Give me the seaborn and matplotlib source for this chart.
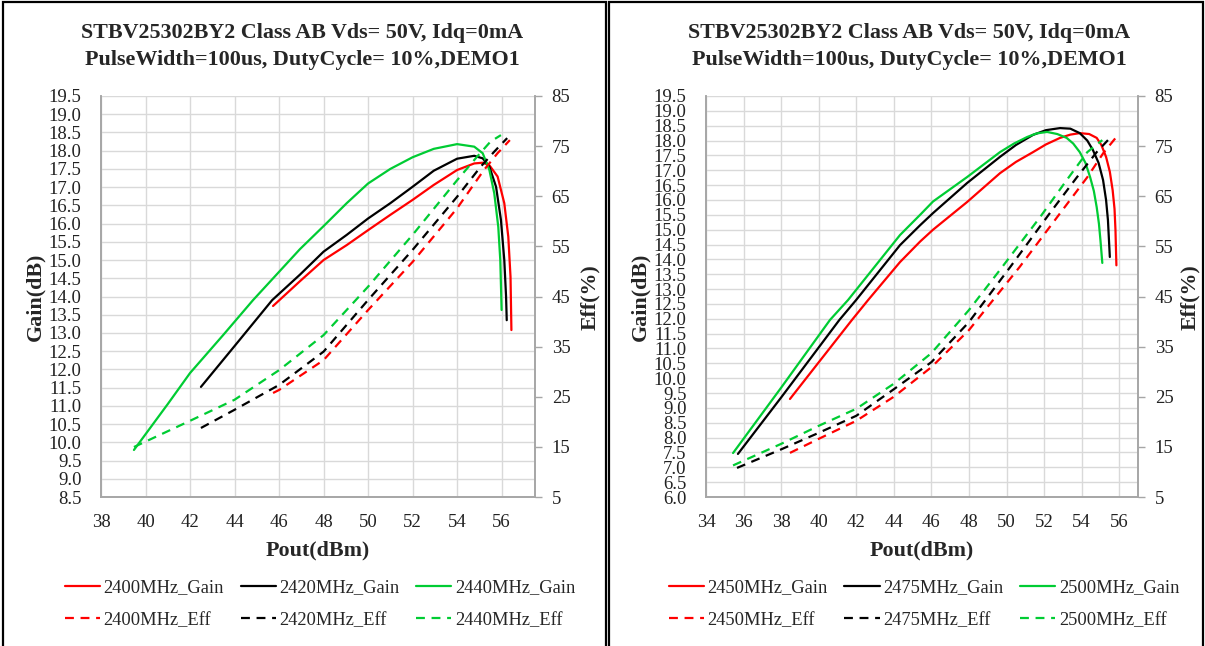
import numpy as np
import pandas as pd
import matplotlib.pyplot as plt
import seaborn as sns
from matplotlib.patches import Rectangle
from matplotlib.lines import Line2D

sns.set_style("white")
plt.rcParams['font.family'] = ['Liberation Serif', 'DejaVu Serif']

# --- DATA: left panel (DEMO1, 2400/2420/2440 MHz) ---
pout_2400_gain = [45.73, 46.94, 48.0, 49.04, 50.0, 51.0, 52.0, 52.95, 54.0, 54.77, 55.15, 55.45,
                  55.82, 56.12, 56.3, 56.4, 56.44]
gain_2400 = [13.74, 14.42, 15.0, 15.41, 15.82, 16.24, 16.65, 17.06, 17.47, 17.65, 17.67, 17.6,
             17.29, 16.56, 15.64, 14.54, 13.08]
pout_2420_gain = [42.49, 44.0, 45.69, 46.94, 48.0, 49.04, 50.0, 51.0, 52.0, 52.95, 54.0, 54.77,
                  55.15, 55.45, 55.75, 55.97, 56.12, 56.2, 56.23]
gain_2420 = [11.52, 12.64, 13.9, 14.6, 15.23, 15.69, 16.14, 16.56, 17.01, 17.45, 17.78, 17.86,
             17.79, 17.56, 17.01, 16.1, 15.0, 14.0, 13.35]
pout_2440_gain = [39.48, 41.0, 42.0, 43.5, 44.83, 46.94, 48.0, 49.04, 50.0, 51.0, 52.0, 52.95,
                  54.0, 54.77, 55.15, 55.45, 55.67, 55.85, 55.94, 56.0]
gain_2440 = [9.79, 11.05, 11.9, 12.95, 13.9, 15.3, 15.93, 16.56, 17.1, 17.5, 17.82, 18.05,
             18.18, 18.11, 17.93, 17.47, 16.83, 15.91, 15.0, 13.63]

pout_2400_eff = [45.73, 46.0, 48.0, 50.0, 52.0, 54.0, 55.2, 55.82, 56.37]
eff_2400 = [25.75, 26.35, 32.3, 42.3, 51.9, 62.6, 70.2, 73.6, 76.2]
pout_2420_eff = [42.49, 44.0, 46.0, 48.0, 50.0, 52.0, 54.0, 55.06, 55.67, 56.25]
eff_2420 = [18.77, 22.4, 27.35, 34.0, 44.3, 54.3, 64.9, 70.9, 73.9, 76.6]
pout_2440_eff = [39.48, 42.0, 44.0, 46.0, 48.0, 50.0, 52.0, 54.0, 54.9, 55.5, 55.97]
eff_2440 = [14.97, 20.2, 24.4, 30.3, 37.3, 46.96, 57.3, 68.2, 72.9, 75.9, 77.2]

# --- DATA: right panel (2450/2475/2500 MHz) ---
pout_2450_gain = [38.47, 41.77, 42.63, 44.33, 45.4, 46.09, 47.9, 49.65, 50.5, 51.41, 52.1, 52.85,
                  53.4, 53.9, 54.4, 54.8, 55.05, 55.3, 55.5, 55.65, 55.75, 55.8, 55.85]
gain_2450 = [9.3, 11.96, 12.63, 13.91, 14.6, 15.0, 15.93, 16.9, 17.28, 17.61, 17.87, 18.09,
             18.2, 18.25, 18.22, 18.09, 17.85, 17.45, 16.95, 16.33, 15.7, 15.0, 13.8]
pout_2475_gain = [35.7, 38.0, 41.1, 41.99, 44.33, 45.4, 46.09, 47.9, 49.65, 50.5, 51.41, 52.1,
                  52.85, 53.4, 53.9, 54.3, 54.6, 54.9, 55.14, 55.3, 55.4, 55.5]
gain_2475 = [7.45, 9.35, 11.96, 12.63, 14.48, 15.15, 15.56, 16.57, 17.45, 17.85, 18.19, 18.35,
             18.42, 18.4, 18.25, 18.0, 17.68, 17.25, 16.67, 16.0, 15.32, 14.08]
pout_2500_gain = [35.44, 38.0, 40.6, 41.56, 44.33, 45.4, 46.09, 47.9, 49.65, 50.4, 51.1, 51.6,
                  52.16, 52.7, 53.2, 53.55, 53.9, 54.2, 54.45, 54.65, 54.8, 54.92, 55.0, 55.1]
gain_2500 = [7.48, 9.68, 11.96, 12.63, 14.82, 15.5, 15.95, 16.77, 17.61, 17.9, 18.12, 18.24,
             18.29, 18.22, 18.09, 17.9, 17.61, 17.25, 16.77, 16.3, 15.76, 15.2, 14.65, 13.88]

pout_2450_eff = [38.47, 40.0, 42.0, 44.0, 46.0, 48.0, 50.7, 52.85, 54.3, 55.15, 55.8]
eff_2450 = [13.8, 16.6, 20.2, 25.0, 30.9, 38.3, 50.9, 61.6, 68.8, 73.6, 76.6]
pout_2475_eff = [35.65, 38.0, 40.0, 42.0, 44.0, 46.0, 48.0, 50.2, 52.3, 53.75, 54.8, 55.4]
eff_2475 = [10.8, 14.5, 17.8, 21.2, 26.5, 31.9, 39.9, 50.9, 61.6, 68.8, 73.8, 76.2]
pout_2500_eff = [35.44, 38.0, 40.0, 42.0, 44.0, 46.0, 48.0, 49.65, 51.8, 53.2, 54.3, 55.1]
eff_2500 = [11.3, 15.6, 19.2, 22.6, 27.6, 33.7, 42.3, 50.3, 60.9, 68.2, 73.8, 76.2]

title_1 = "STBV25302BY2 Class AB Vds= 50V, Idq=0mA"
title_2 = "PulseWidth=100us, DutyCycle= 10%,DEMO1"

RED, BLACK, GREEN = '#ff0000', '#000000', '#00cc33'
GRID = '#d9d9d9'
SPINE = '#a6a6a6'
W, H = 1205, 646

panels = [
    dict(left=101, right=535, cx=302, lx=320, xlim=(38, 57.5), xticks=np.arange(38, 57, 2),
         ylim=(8.5, 19.5), freqs=['2400', '2420', '2440'],
         gain=[(pout_2400_gain, gain_2400), (pout_2420_gain, gain_2420), (pout_2440_gain, gain_2440)],
         eff=[(pout_2400_eff, eff_2400), (pout_2420_eff, eff_2420), (pout_2440_eff, eff_2440)],
         ylab_x=35, elab_x=590),
    dict(left=706, right=1138, cx=909, lx=924, xlim=(34, 57), xticks=np.arange(34, 57, 2),
         ylim=(6.0, 19.5), freqs=['2450', '2475', '2500'],
         gain=[(pout_2450_gain, gain_2450), (pout_2475_gain, gain_2475), (pout_2500_gain, gain_2500)],
         eff=[(pout_2450_eff, eff_2450), (pout_2475_eff, eff_2475), (pout_2500_eff, eff_2500)],
         ylab_x=640, elab_x=1190),
]
colors = [RED, BLACK, GREEN]
top_px, bot_px = 96, 497
LW = 1.6
DASH = (4, 3)

fig = plt.figure(figsize=(W / 100, H / 100), dpi=100)

# panel borders
fig.patches.append(Rectangle((3 / W, -0.02), 603 / W, 1.02 - 1.5 / H, transform=fig.transFigure,
                             fill=False, edgecolor='black', linewidth=1.6))
fig.patches.append(Rectangle((609 / W, -0.02), 594 / W, 1.02 - 1.5 / H, transform=fig.transFigure,
                             fill=False, edgecolor='black', linewidth=1.6))

for p in panels:
    ax = fig.add_axes([p['left'] / W, 1 - bot_px / H, (p['right'] - p['left']) / W, (bot_px - top_px) / H])
    ax2 = ax.twinx()

    for (xs, ys), c in zip(p['gain'], colors):
        sns.lineplot(x=xs, y=ys, ax=ax, color=c, linewidth=LW, sort=False, estimator=None)
    for (xs, ys), c in zip(p['eff'], colors):
        sns.lineplot(x=xs, y=ys, ax=ax2, color=c, linewidth=LW, sort=False, estimator=None,
                     dashes=False, linestyle=(0, DASH))

    ax.set_xlim(*p['xlim'])
    ax.set_ylim(*p['ylim'])
    ax2.set_ylim(5, 85)
    ax.set_xticks(p['xticks'])
    yt = np.arange(p['ylim'][0], p['ylim'][1] + 0.01, 0.5)
    ax.set_yticks(yt)
    ax.set_yticklabels([f"{v:.1f}" for v in yt])
    ax2.set_yticks(np.arange(5, 86, 10))
    ax.grid(True, color=GRID, linewidth=1.0)
    ax.set_axisbelow(True)

    ax.tick_params(axis='both', length=0, labelsize=13.5, colors='#222222')
    ax.tick_params(axis='x', pad=12)
    ax.tick_params(axis='y', pad=14)
    ax2.tick_params(axis='y', length=5, width=1, color=SPINE, direction='out', pad=7,
                    labelsize=13.5, labelcolor='#222222')

    for a in (ax, ax2):
        a.spines['top'].set_visible(False)
        for s in ('left', 'bottom', 'right'):
            a.spines[s].set_color(SPINE)
            a.spines[s].set_linewidth(1.2)
        a.set_xlabel('')
        a.set_ylabel('')

    # titles and axis labels
    fig.text(p['cx'] / W, 1 - 33 / H, title_1, ha='center', va='center', fontsize=15.8, fontweight='bold')
    fig.text(p['cx'] / W, 1 - 60 / H, title_2, ha='center', va='center', fontsize=15.8, fontweight='bold')
    fig.text((p['left'] + p['right']) / 2 / W, 1 - 550 / H, 'Pout(dBm)', ha='center', va='center',
             fontsize=15.8, fontweight='bold')
    fig.text(p['ylab_x'] / W, 1 - 297 / H, 'Gain(dB)', ha='center', va='center', rotation=90,
             fontsize=15.8, fontweight='bold')
    fig.text(p['elab_x'] / W, 1 - 297 / H, 'Eff(%)', ha='center', va='center', rotation=90,
             fontsize=15.8, fontweight='bold')

    # legend: columns = frequency, rows = Gain / Eff
    handles, labels = [], []
    for f, c in zip(p['freqs'], colors):
        handles.append(Line2D([], [], color=c, linewidth=LW))
        labels.append(f"{f}MHz_Gain")
        handles.append(Line2D([], [], color=c, linewidth=LW, linestyle=(0, DASH)))
        labels.append(f"{f}MHz_Eff")
    fig.legend(handles, labels, ncol=3, loc='center', bbox_to_anchor=(p['lx'] / W, 1 - 604 / H),
               frameon=False, fontsize=13.3, handlelength=1.9, handletextpad=0.2,
               columnspacing=0.9, labelspacing=0.85)

fig.savefig('out.png', dpi=100)
